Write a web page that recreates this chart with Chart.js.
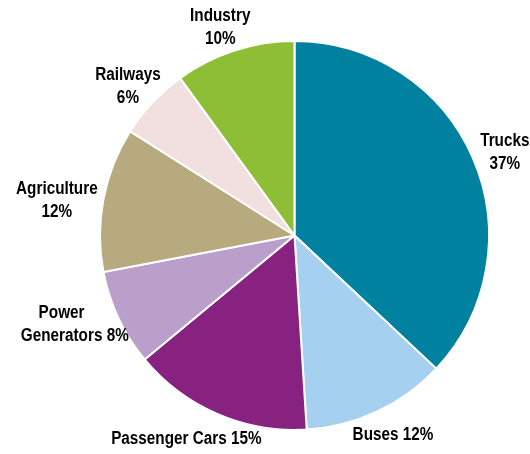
<!DOCTYPE html>
<html>
<head>
<meta charset="utf-8">
<style>
  html, body { margin: 0; padding: 0; background: #ffffff; }
  canvas { display: block; }
</style>
<script src="https://cdn.jsdelivr.net/npm/chart.js@4/dist/chart.umd.min.js"></script>
</head>
<body>
<canvas id="pie" width="530" height="454"></canvas>
<script>
// Share of consumption by sector (%)
const sectors = ['Trucks', 'Buses', 'Passenger Cars', 'Power Generators', 'Agriculture', 'Railways', 'Industry'];
const shares = [37, 12, 15, 8, 12, 6, 10];
const sliceColors = ['#00819f', '#a6d0ef', '#882281', '#bb9fcb', '#b8aa7f', '#f2dfdf', '#8dbe36'];

// How each outside label is laid out and where it sits relative to its slice
// mode: 'stack' = name over value, 'inline' = name and value on one line,
//       'split' = first word over the rest of the name plus value
const labelLayout = [
  { mode: 'stack',  gap: 32, nudge: 1.6 },
  { mode: 'inline', gap: 27, nudge: -1.2 },
  { mode: 'inline', gap: 35, nudge: 4.7 },
  { mode: 'split',  gap: 42, nudge: 3.5 },
  { mode: 'stack',  gap: 46, nudge: -2.0 },
  { mode: 'stack',  gap: 30, nudge: -1.1 },
  { mode: 'stack',  gap: 28, nudge: -1.5 }
];

// Condensed look: bold sans squeezed horizontally
const FONT_PX = 18;
const LABEL_FONT = 'bold ' + FONT_PX + 'px "Liberation Sans", Arial, sans-serif';
const SQUEEZE = 0.85;
const CAP = 0.716 * FONT_PX;
const LINE_H = 23;

function drawSqueezed(ctx, text, x, y) {
  ctx.save();
  ctx.translate(x, y);
  ctx.scale(SQUEEZE, 1);
  ctx.fillText(text, 0, 0);
  ctx.restore();
}

const outsideLabels = {
  id: 'outsideLabels',
  afterDatasetsDraw(chart) {
    const ctx = chart.ctx;
    const meta = chart.getDatasetMeta(0);
    ctx.save();
    ctx.font = LABEL_FONT;
    ctx.fillStyle = '#000000';
    ctx.textBaseline = 'alphabetic';
    ctx.textAlign = 'center';
    meta.data.forEach((arc, i) => {
      const p = arc.getProps(['x', 'y', 'startAngle', 'endAngle', 'outerRadius'], true);
      const layout = labelLayout[i];
      const mid = (p.startAngle + p.endAngle) / 2 + layout.nudge * Math.PI / 180;
      const dist = p.outerRadius + layout.gap;
      const cx = p.x + Math.cos(mid) * dist;
      const cy = p.y + Math.sin(mid) * dist;
      const name = sectors[i];
      const pct = shares[i] + '%';
      let lines; // each: {text, dx}
      if (layout.mode === 'inline') {
        lines = [{ text: name + ' ' + pct, dx: 0 }];
      } else if (layout.mode === 'split') {
        const words = name.split(' ');
        const first = words[0];
        const restWord = words.slice(1).join(' ');
        const second = restWord + ' ' + pct;
        const wSecond = ctx.measureText(second).width * SQUEEZE;
        const wRest = ctx.measureText(restWord).width * SQUEEZE;
        // first word centred over the second word of the name
        lines = [
          { text: first, dx: -wSecond / 2 + wRest / 2 },
          { text: second, dx: 0 }
        ];
      } else {
        lines = [{ text: name, dx: 0 }, { text: pct, dx: 0 }];
      }
      const firstCenter = cy - (lines.length - 1) * LINE_H / 2;
      lines.forEach((ln, k) => {
        drawSqueezed(ctx, ln.text, cx + ln.dx, firstCenter + k * LINE_H + CAP / 2);
      });
    });
    ctx.restore();
  }
};

new Chart(document.getElementById('pie'), {
  type: 'pie',
  data: {
    labels: sectors,
    datasets: [{
      data: shares,
      backgroundColor: sliceColors,
      borderColor: '#ffffff',
      borderWidth: 2,
      hoverBorderWidth: 2
    }]
  },
  options: {
    responsive: false,
    animation: false,
    layout: { padding: { left: 99, right: 40, top: 40, bottom: 23 } },
    plugins: {
      legend: { display: false },
      tooltip: { enabled: false }
    }
  },
  plugins: [outsideLabels]
});
</script>
</body>
</html>
